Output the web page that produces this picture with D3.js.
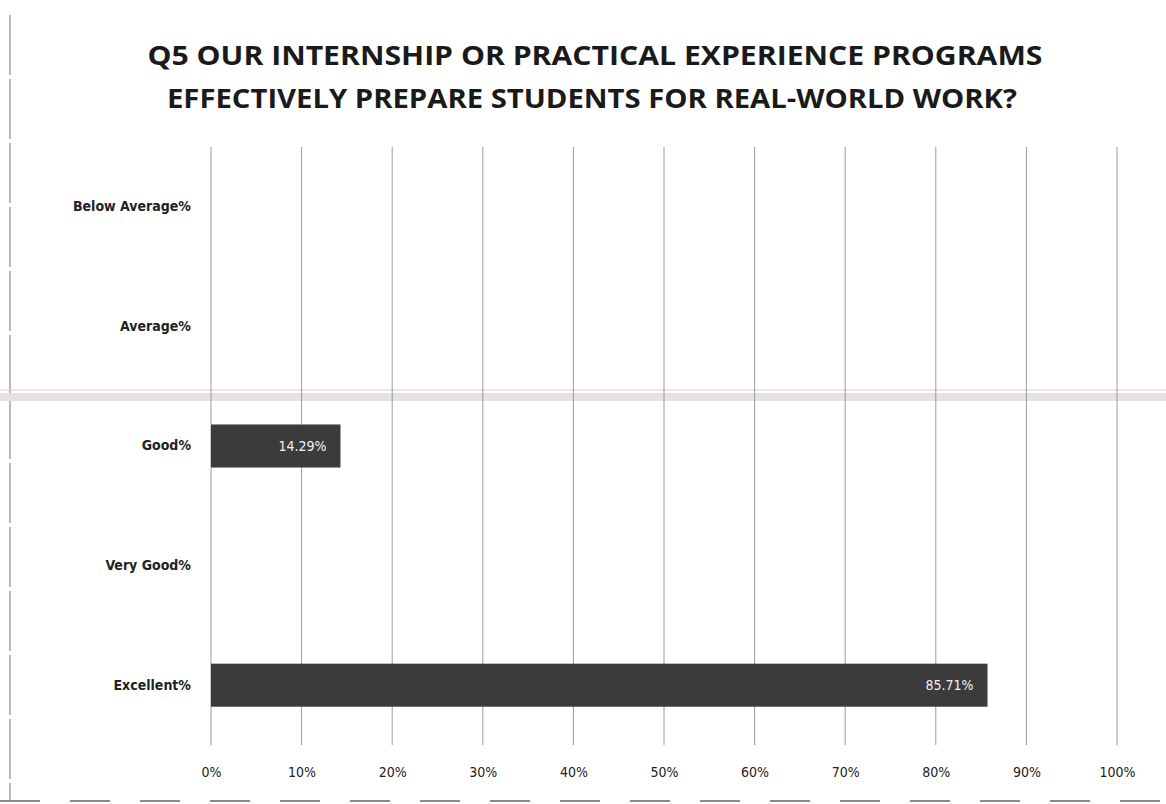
<!DOCTYPE html>
<html><head><meta charset="utf-8">
<script src="https://cdn.jsdelivr.net/npm/d3@7"></script>
<style>body{margin:0;background:#fff}svg{display:block}</style>
</head><body>
<svg id="c" width="1166" height="804"></svg>
<script>
const categories = ["Below Average%", "Average%", "Good%", "Very Good%", "Excellent%"];
const values = [0, 0, 14.29, 0, 85.71];
const valueLabels = ["", "", "14.29%", "", "85.71%"];
const ticks = [0,10,20,30,40,50,60,70,80,90,100];
const titleLines = ["Q5 OUR INTERNSHIP OR PRACTICAL EXPERIENCE PROGRAMS", "EFFECTIVELY PREPARE STUDENTS FOR REAL-WORLD WORK?"];

(function(){
const svg = d3.select("#c");
const pL = 211, pR = 1117, pT = 147, pB = 745;
const x = d3.scaleLinear().domain([0,100]).range([pL,pR]);
const y = d3.scaleBand().domain(categories).range([pT,pB]).paddingInner(0.64).paddingOuter(0.32);

// scan artifacts: page border and horizontal band
svg.append("line").attr("x1",10).attr("x2",10).attr("y1",15).attr("y2",800).attr("stroke","#777").attr("stroke-width",1).attr("stroke-dasharray","60,4");
svg.append("line").attr("x1",0).attr("x2",1166).attr("y1",801).attr("y2",801).attr("stroke","#666").attr("stroke-width",1.5).attr("stroke-dasharray","40,30");
svg.append("rect").attr("x",0).attr("y",393).attr("width",1166).attr("height",8).attr("fill","#e6e1e2");
svg.append("line").attr("x1",0).attr("x2",1166).attr("y1",390).attr("y2",390).attr("stroke","#ecc2c8").attr("stroke-width",1);

// title
const tt = svg.append("g").attr("font-family","'Liberation Sans Narrow','Arial Narrow','Open Sans',sans-serif").attr("font-weight","bold").attr("font-size",27).attr("fill","#1a1a1a").attr("text-anchor","middle");
tt.append("text").attr("x",595).attr("y",65).attr("textLength",895).attr("lengthAdjust","spacingAndGlyphs").text(titleLines[0]);
tt.append("text").attr("x",592).attr("y",108).attr("textLength",850).attr("lengthAdjust","spacingAndGlyphs").text(titleLines[1]);

// gridlines
svg.append("g").selectAll("line").data(ticks).join("line")
  .attr("x1",d=>x(d)).attr("x2",d=>x(d)).attr("y1",pT).attr("y2",pB)
  .attr("stroke","#9a9a9a").attr("stroke-width",1);

// x axis labels
const xa = svg.append("g").attr("transform",`translate(0,${pB})`)
  .call(d3.axisBottom(x).tickValues(ticks).tickFormat(d=>d+"%").tickSize(0).tickPadding(22));
xa.select(".domain").remove();
xa.selectAll("text").attr("font-family","'DejaVu Sans Condensed','DejaVu Sans',sans-serif").attr("font-size",14).attr("fill","#222");

// y axis labels
const ya = svg.append("g").attr("transform",`translate(${pL},0)`)
  .call(d3.axisLeft(y).tickSize(0).tickPadding(20));
ya.select(".domain").remove();
ya.selectAll("text").attr("font-family","'DejaVu Sans Condensed','DejaVu Sans',sans-serif").attr("font-size",14).attr("font-weight","bold").attr("fill","#222");

// bars
const data = categories.map((c,i)=>({c, v:values[i], l:valueLabels[i]}));
svg.append("g").selectAll("rect").data(data.filter(d=>d.v>0)).join("rect")
  .attr("x",x(0)).attr("y",d=>y(d.c)).attr("width",d=>x(d.v)-x(0)).attr("height",y.bandwidth())
  .attr("fill","#3b3b3b");
svg.append("g").selectAll("text").data(data.filter(d=>d.v>0)).join("text")
  .attr("x",d=>x(d.v)-14).attr("y",d=>y(d.c)+y.bandwidth()/2).attr("dy","0.35em")
  .attr("text-anchor","end").attr("font-family","'DejaVu Sans Condensed','DejaVu Sans',sans-serif").attr("font-size",14)
  .attr("fill","#f2f2f2").text(d=>d.l);
})();
</script>
</body></html>
